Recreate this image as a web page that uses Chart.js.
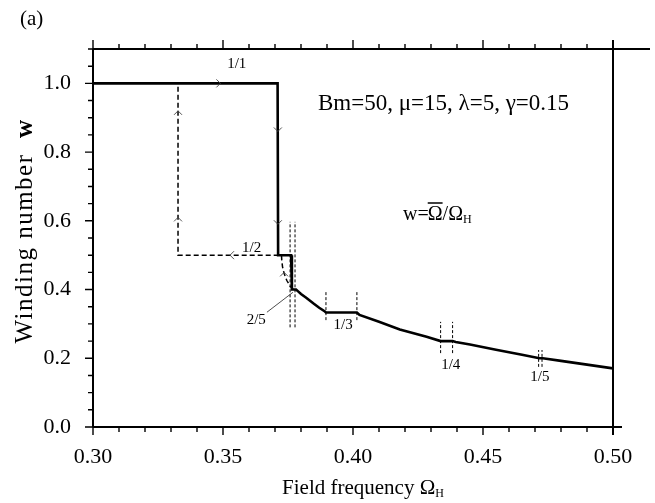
<!DOCTYPE html>
<html><head><meta charset="utf-8">
<script src="https://cdn.jsdelivr.net/npm/chart.js@4/dist/chart.umd.min.js"></script>
<style>html,body{margin:0;padding:0;background:#fff}#wrap{width:655px;height:503px}</style>
</head><body><div id="wrap"><canvas id="c" width="655" height="503"></canvas></div>
<script>
// Solid (forward sweep) branch
const solidX = [0.300, 0.3710, 0.3712, 0.3762, 0.3765, 0.3781, 0.3790, 0.3800, 0.3820, 0.3847, 0.3870, 0.3892, 0.3896, 0.4015, 0.4025, 0.4100, 0.4180, 0.4283, 0.4337, 0.4383, 0.4395, 0.4450, 0.4550, 0.4650, 0.4717, 0.4730, 0.4800, 0.4900, 0.5000];
const solidW = [1.000, 1.000, 0.500, 0.500, 0.400, 0.400, 0.394, 0.387, 0.376, 0.360, 0.347, 0.336, 0.3333, 0.3333, 0.326, 0.306, 0.284, 0.2625, 0.250, 0.250, 0.2475, 0.240, 0.225, 0.210, 0.200, 0.200, 0.1925, 0.1815, 0.1705];
// Dashed (backward sweep) branch
const backX = [0.3770, 0.3758, 0.3745, 0.3735, 0.3729, 0.3726, 0.3725, 0.3327, 0.3327];
const backW = [0.400, 0.410, 0.427, 0.447, 0.466, 0.485, 0.500, 0.500, 1.000];
// Plateau edge markers (dashed vertical)
const markerX = [0.3758, 0.3777, 0.3896, 0.4015, 0.4337, 0.4383, 0.4714, 0.4727];
const markerLow = [0.290, 0.290, 0.311, 0.311, 0.215, 0.215, 0.175, 0.175];
const markerHigh = [0.597, 0.597, 0.398, 0.398, 0.306, 0.306, 0.224, 0.224];
// Leader line to the 2/5 label
const leaderX = [0.3669, 0.3769];
const leaderW = [0.334, 0.392];
// Plateau labels
const plateauLabels = ['1/1', '1/2', '2/5', '1/3', '1/4', '1/5'];
const labelX = [0.3553, 0.3610, 0.3628, 0.3962, 0.4376, 0.4719];
const labelW = [1.055, 0.521, 0.311, 0.298, 0.180, 0.146];
// Direction arrows
const arrowX = [0.3490, 0.3327, 0.3327, 0.3527, 0.3711, 0.3711, 0.3735];
const arrowW = [1.000, 0.920, 0.610, 0.500, 0.860, 0.590, 0.450];
const arrowDir = ['right', 'up', 'up', 'left', 'down', 'down', 'up'];
// Axis ranges / tick labels
const xMin = 0.30, xMax = 0.50, xStep = 0.01;
const yMin = 0.0, yMax = 1.1, yStep = 0.05;
const xTickLabels = ['0.30', '0.35', '0.40', '0.45', '0.50'];
const yTickLabels = ['0.0', '0.2', '0.4', '0.6', '0.8', '1.0'];

const SERIF = '"Liberation Serif", "DejaVu Serif", serif';
const pts = (xs, ys) => xs.map((x, i) => ({x: x, y: ys[i]}));

const datasets = [
  {data: pts(solidX, solidW), borderColor: '#000', borderWidth: 2.6, borderDash: []},
  {data: pts(backX, backW), borderColor: '#000', borderWidth: 1.5, borderDash: [5, 3]},
  {data: pts(leaderX, leaderW), borderColor: '#222', borderWidth: 0.8, borderDash: []}
];
markerX.forEach((mx, i) => {
  datasets.push({data: [{x: mx, y: markerLow[i]}, {x: mx, y: markerHigh[i]}], borderColor: '#000', borderWidth: 1, borderDash: [3, 2]});
});
datasets.forEach(d => { d.showLine = true; d.pointRadius = 0; d.tension = 0; d.fill = false; });

const isXMajor = v => Math.round(v * 100) % 5 === 0;
const isYMajor = v => Math.round(v * 100) % 20 === 0;

const decor = {
  id: 'decor',
  afterDatasetsDraw(chart) {
    const ctx = chart.ctx, xs = chart.scales.x, ys = chart.scales.y;
    const L = xs.getPixelForValue(xMin), R = xs.getPixelForValue(xMax);
    const B = ys.getPixelForValue(yMin), T = ys.getPixelForValue(yMax);
    ctx.save();
    ctx.strokeStyle = '#000';
    ctx.lineCap = 'butt';
    // frame
    ctx.lineWidth = 2;
    ctx.beginPath();
    ctx.moveTo(L, T); ctx.lineTo(L, B);
    ctx.moveTo(L, B); ctx.lineTo(R + 9, B);
    ctx.moveTo(R, T - 9); ctx.lineTo(R, B + 8);
    ctx.moveTo(L, T); ctx.lineTo(R + 37, T);
    ctx.stroke();
    // ticks
    ctx.lineWidth = 1.4;
    ctx.beginPath();
    xs.ticks.forEach(t => {
      const px = xs.getPixelForValue(t.value);
      const m = isXMajor(t.value);
      ctx.moveTo(px, B); ctx.lineTo(px, B + (m ? 8 : 5));
      ctx.moveTo(px, T); ctx.lineTo(px, T - (m ? 9 : 5));
    });
    ys.ticks.forEach(t => {
      const py = ys.getPixelForValue(t.value);
      const m = isYMajor(t.value);
      ctx.moveTo(L, py); ctx.lineTo(L - (m ? 8 : 5), py);
    });
    ctx.stroke();
    // arrows
    ctx.lineWidth = 0.9;
    ctx.strokeStyle = '#444';
    arrowX.forEach((ax, i) => {
      const px = xs.getPixelForValue(ax), py = ys.getPixelForValue(arrowW[i]);
      const s = 4;
      ctx.beginPath();
      if (arrowDir[i] === 'right') { ctx.moveTo(px - s, py - s); ctx.lineTo(px, py); ctx.lineTo(px - s, py + s); }
      if (arrowDir[i] === 'left') { ctx.moveTo(px + s, py - s); ctx.lineTo(px, py); ctx.lineTo(px + s, py + s); }
      if (arrowDir[i] === 'up') { ctx.moveTo(px - s, py + s); ctx.lineTo(px, py); ctx.lineTo(px + s, py + s); }
      if (arrowDir[i] === 'down') { ctx.moveTo(px - s, py - s); ctx.lineTo(px, py); ctx.lineTo(px + s, py - s); }
      ctx.stroke();
    });
    // plateau labels
    ctx.fillStyle = '#000';
    ctx.textAlign = 'center';
    ctx.textBaseline = 'middle';
    ctx.font = '15px ' + SERIF;
    plateauLabels.forEach((lab, i) => {
      ctx.fillText(lab, xs.getPixelForValue(labelX[i]), ys.getPixelForValue(labelW[i]));
    });
    // parameters text
    ctx.textAlign = 'left';
    ctx.textBaseline = 'alphabetic';
    ctx.font = '23px ' + SERIF;
    ctx.fillText('Bm=50, \u03bc=15, \u03bb=5, \u03b3=0.15', 318, 110);
    // w = Omega-bar / Omega_H
    let x0 = 403; const by = 220;
    ctx.font = '20px ' + SERIF;
    ctx.fillText('w=', x0, by); x0 += ctx.measureText('w=').width - 1;
    const ow = ctx.measureText('\u03a9').width;
    ctx.fillText('\u03a9', x0, by);
    ctx.lineWidth = 1.5; ctx.strokeStyle = '#000';
    ctx.beginPath(); ctx.moveTo(x0, by - 17); ctx.lineTo(x0 + ow, by - 17); ctx.stroke();
    x0 += ow;
    ctx.fillText('/\u03a9', x0, by); x0 += ctx.measureText('/\u03a9').width;
    ctx.font = '12px ' + SERIF;
    ctx.fillText('H', x0, by + 3);
    // panel label
    ctx.font = '21px ' + SERIF;
    ctx.fillText('(a)', 20, 25);
    // x title
    ctx.font = '21px ' + SERIF;
    const xt = 'Field frequency \u03a9';
    const xtw = ctx.measureText(xt).width;
    ctx.font = '12px ' + SERIF;
    const hw = ctx.measureText('H').width;
    let sx = (L + R) / 2 + 10 - (xtw + hw) / 2;
    ctx.font = '21px ' + SERIF;
    ctx.fillText(xt, sx, 494);
    ctx.font = '12px ' + SERIF;
    ctx.fillText('H', sx + xtw, 497);
    // y title
    ctx.save();
    ctx.translate(32, 231);
    ctx.rotate(-Math.PI / 2);
    ctx.letterSpacing = '1.5px';
    ctx.font = '25px ' + SERIF;
    const yt = 'Winding number  ';
    const ytw = ctx.measureText(yt).width;
    ctx.font = 'bold 25px ' + SERIF;
    const ww = ctx.measureText('w').width;
    let sy = -(ytw + ww) / 2;
    ctx.font = '25px ' + SERIF;
    ctx.fillText(yt, sy, 0);
    ctx.font = 'bold 25px ' + SERIF;
    ctx.fillText('w', sy + ytw, 0);
    ctx.restore();
    ctx.restore();
  }
};

new Chart(document.getElementById('c'), {
  type: 'scatter',
  data: {datasets: datasets},
  options: {
    responsive: false,
    animation: false,
    devicePixelRatio: 1,
    layout: {padding: {top: 49, right: 42, left: 0, bottom: 0}},
    plugins: {legend: {display: false}, tooltip: {enabled: false}},
    scales: {
      x: {
        type: 'linear', min: xMin, max: xMax,
        grid: {display: false}, border: {display: false},
        ticks: {
          stepSize: xStep, autoSkip: false, maxRotation: 0, padding: 9, color: '#000',
          font: {family: SERIF, size: 22},
          callback: v => { const s = v.toFixed(2); return isXMajor(v) && xTickLabels.includes(s) ? s : ''; }
        },
        afterFit: s => { s.height = 76; }
      },
      y: {
        type: 'linear', min: yMin, max: yMax,
        grid: {display: false}, border: {display: false},
        ticks: {
          stepSize: yStep, autoSkip: false, padding: 14, color: '#000',
          font: {family: SERIF, size: 22},
          callback: v => { const s = v.toFixed(1); return isYMajor(v) && yTickLabels.includes(s) ? s : ''; }
        },
        afterFit: s => { s.width = 93; }
      }
    }
  },
  plugins: [decor]
});
</script>
</body></html>
